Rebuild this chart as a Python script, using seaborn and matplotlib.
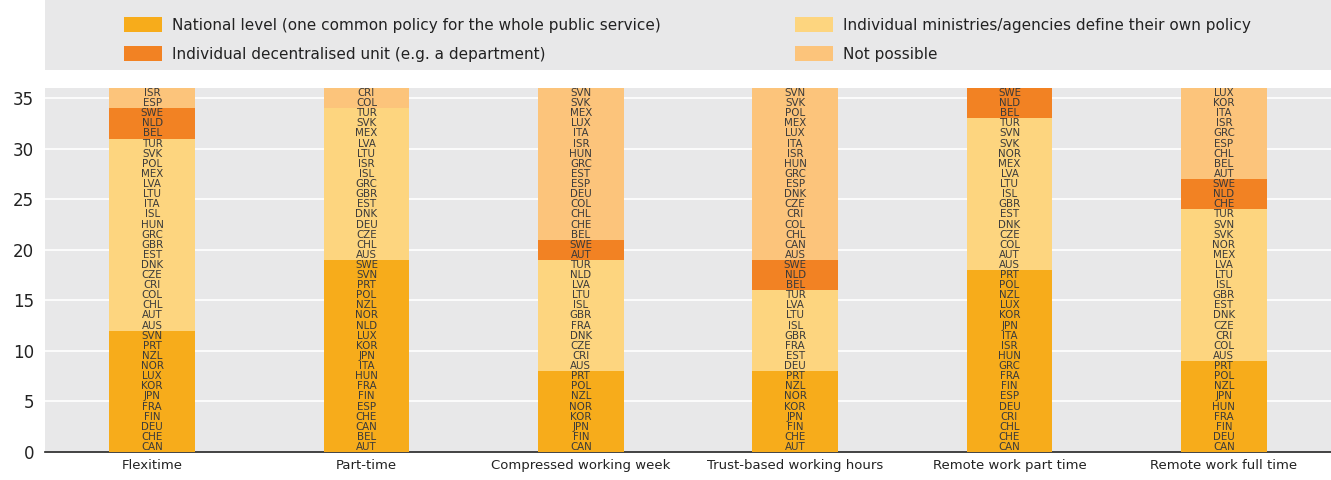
import matplotlib
matplotlib.use("Agg")
import matplotlib.pyplot as plt
from matplotlib.patches import Patch, Rectangle
import seaborn as sns
import pandas as pd
import numpy as np

# categories (x axis)
arrangements = ["Flexitime", "Part-time", "Compressed working week",
                "Trust-based working hours", "Remote work part time", "Remote work full time"]

# countries in each group, listed bottom to top within the group
national = [
    ["CAN", "CHE", "DEU", "FIN", "FRA", "JPN", "KOR", "LUX", "NOR", "NZL", "PRT", "SVN"],
    ["AUT", "BEL", "CAN", "CHE", "ESP", "FIN", "FRA", "HUN", "ITA", "JPN", "KOR", "LUX",
     "NLD", "NOR", "NZL", "POL", "PRT", "SVN", "SWE"],
    ["CAN", "FIN", "JPN", "KOR", "NOR", "NZL", "POL", "PRT"],
    ["AUT", "CHE", "FIN", "JPN", "KOR", "NOR", "NZL", "PRT"],
    ["CAN", "CHE", "CHL", "CRI", "DEU", "ESP", "FIN", "FRA", "GRC", "HUN", "ISR", "ITA",
     "JPN", "KOR", "LUX", "NZL", "POL", "PRT"],
    ["CAN", "DEU", "FIN", "FRA", "HUN", "JPN", "NZL", "POL", "PRT"],
]
ministries = [
    ["AUS", "AUT", "CHL", "COL", "CRI", "CZE", "DNK", "EST", "GBR", "GRC", "HUN", "ISL",
     "ITA", "LTU", "LVA", "MEX", "POL", "SVK", "TUR"],
    ["AUS", "CHL", "CZE", "DEU", "DNK", "EST", "GBR", "GRC", "ISL", "ISR", "LTU", "LVA",
     "MEX", "SVK", "TUR"],
    ["AUS", "CRI", "CZE", "DNK", "FRA", "GBR", "ISL", "LTU", "LVA", "NLD", "TUR"],
    ["DEU", "EST", "FRA", "GBR", "ISL", "LTU", "LVA", "TUR"],
    ["AUS", "AUT", "COL", "CZE", "DNK", "EST", "GBR", "ISL", "LTU", "LVA", "MEX", "NOR",
     "SVK", "SVN", "TUR"],
    ["AUS", "COL", "CRI", "CZE", "DNK", "EST", "GBR", "ISL", "LTU", "LVA", "MEX", "NOR",
     "SVK", "SVN", "TUR"],
]
decentralised = [
    ["BEL", "NLD", "SWE"],
    [],
    ["AUT", "SWE"],
    ["BEL", "NLD", "SWE"],
    ["BEL", "NLD", "SWE"],
    ["CHE", "NLD", "SWE"],
]
not_possible = [
    ["ESP", "ISR"],
    ["COL", "CRI"],
    ["BEL", "CHE", "CHL", "COL", "DEU", "ESP", "EST", "GRC", "HUN", "ISR", "ITA", "LUX",
     "MEX", "SVK", "SVN"],
    ["AUS", "CAN", "CHL", "COL", "CRI", "CZE", "DNK", "ESP", "GRC", "HUN", "ISR", "ITA",
     "LUX", "MEX", "POL", "SVK", "SVN"],
    [],
    ["AUT", "BEL", "CHL", "ESP", "GRC", "ISR", "ITA", "KOR", "LUX"],
]

groups = [
    ("National level (one common policy for the whole public service)", national, "#F7AC1B"),
    ("Individual decentralised unit (e.g. a department)", decentralised, "#F28223"),
    ("Individual ministries/agencies define their own policy", ministries, "#FDD57F"),
    ("Not possible", not_possible, "#FCC47B"),
]
# stacking order bottom -> top
stack_order = [0, 2, 1, 3]

sns.set_style("white")
plt.rcParams["font.family"] = ["Liberation Sans Narrow", "DejaVu Sans"]

fig = plt.figure(figsize=(13.31, 4.8), dpi=100)
ax = fig.add_axes([45 / 1331, 28 / 480, 1 - 45 / 1331, (452 - 88) / 480])
ax.set_facecolor("#E8E8E9")

bottom = np.zeros(len(arrangements))
for gi in stack_order:
    name, lists, color = groups[gi]
    df = pd.DataFrame({"arrangement": arrangements, "count": [len(l) for l in lists]})
    sns.barplot(data=df, x="arrangement", y="count", color=color, width=0.4,
                bottom=bottom, ax=ax, saturation=1, linewidth=0, zorder=3)
    for i, l in enumerate(lists):
        for k, code in enumerate(l):
            ax.text(i, bottom[i] + k + 0.5, code, ha="center", va="center",
                    fontsize=7.4, color="#3a3a3a", zorder=4)
    bottom = bottom + df["count"].values

ax.set_ylim(0, 36)
ax.set_xlim(-0.5, 5.5)
ax.set_yticks(range(0, 36, 5))
ax.yaxis.grid(True, color="white", linewidth=1.2, zorder=0)
ax.set_axisbelow(True)
ax.set_xlabel("")
ax.set_ylabel("")
for s in ["top", "right", "left"]:
    ax.spines[s].set_visible(False)
ax.spines["bottom"].set_color("#222222")
ax.spines["bottom"].set_linewidth(1.2)
ax.tick_params(axis="y", labelsize=12, colors="#222222", length=0, pad=8)
ax.tick_params(axis="x", labelsize=9.5, colors="#222222", length=0, pad=5)

# legend panel
fig.patches.append(Rectangle((45 / 1331, 410 / 480), 1, 70 / 480,
                             transform=fig.transFigure, facecolor="#E8E8E9",
                             edgecolor="none", zorder=0))
handles = [Patch(facecolor=g[2], edgecolor="none", label=g[0]) for g in groups]
leg_kw = dict(frameon=False, fontsize=11, handlelength=2.5, handleheight=1.1,
              handletextpad=0.65, labelspacing=0.9, borderaxespad=0, borderpad=0,
              labelcolor="#222222")
fig.legend(handles=handles[:2], loc="upper left",
           bbox_to_anchor=(124 / 1331, 1 - 17 / 480), **leg_kw)
fig.legend(handles=handles[2:], loc="upper left",
           bbox_to_anchor=(795 / 1331, 1 - 17 / 480), **leg_kw)

fig.savefig("out.png", dpi=100)
